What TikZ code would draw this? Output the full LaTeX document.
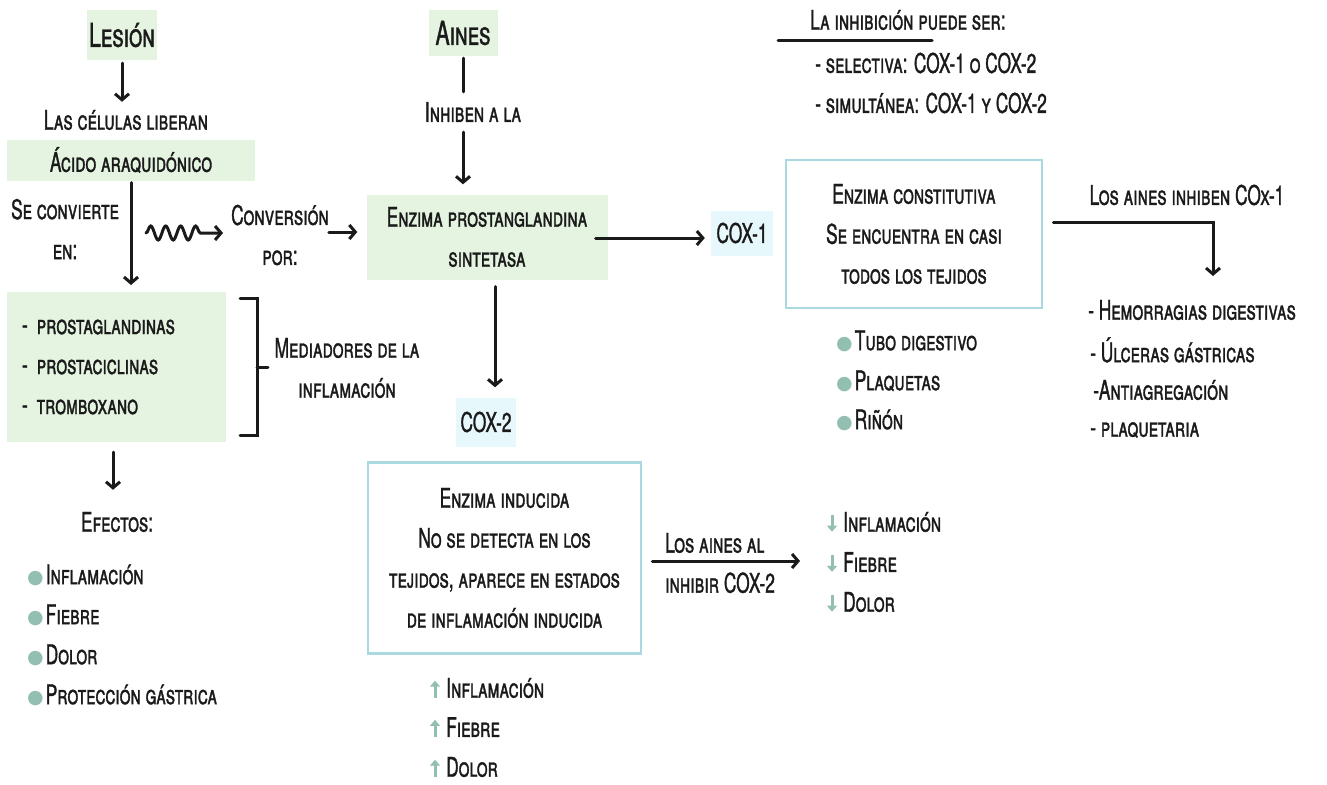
\documentclass[tikz,border=0pt]{standalone}
\usepackage{fontspec}
\setmainfont[FakeStretch=0.64,FakeBold=1.2]{TeX Gyre Heros}
\newfontfamily\symfont{DejaVu Sans}
\usetikzlibrary{arrows.meta,decorations.pathmorphing,calc}
\definecolor{leaf}{HTML}{E4F4E1}
\definecolor{ice}{HTML}{E6F8FC}
\definecolor{frame}{HTML}{AAD9E1}
\definecolor{sage}{HTML}{92BFB1}
\definecolor{ink}{HTML}{1A1A1A}
\newcommand\dotmark{{\color{sage}\fontsize{19}{19}\symfont\raisebox{1pt}{●}}\hspace{2pt}}
\begin{document}
\begin{tikzpicture}[x=1pt,y=-1pt,
  txt/.style={font=\fontsize{27}{40}\selectfont\scshape, text=ink, inner sep=0pt, align=center},
  title/.style={font=\fontsize{33}{40}\selectfont\scshape},
  leafbox/.style={txt, fill=leaf},
  icebox/.style={txt, fill=ice},
  framebox/.style={txt, draw=frame, line width=2.8pt},
  arr/.style={draw=ink, line width=3pt, line cap=round, -{Straight Barb[length=6pt,width=14pt]}},
  plain/.style={draw=ink, line width=3pt, line cap=round},
  item/.style={txt, anchor=west, align=left},
  trend/.style={draw=sage, line width=3pt, -{Triangle[length=6pt,width=10pt]}},
]
\useasboundingbox (0,0) rectangle (1327,784);

% left column: from the lesion to arachidonic acid
\node[leafbox, title, minimum width=70pt, minimum height=50pt] (lesion) at (122,35) {Lesión};
\node[txt] (celulas) at (126,120) {Las células liberan};
\node[leafbox, minimum width=248pt, minimum height=41pt] (acido) at (131,160) {Ácido araquidónico};
\node[txt] (convierte) at (65,229) {Se convierte\\en:};
\node[txt] (conversion) at (280,235) {Conversión\\por:};

\draw[arr] ([yshift=-3pt]lesion.south) -- ($(lesion.south |- celulas.north)+(0,-8)$);
\draw[arr, shorten >=7pt] ($(acido.south)+(0,2)$) -- (acido.south |- 0,292);
\coordinate (wig) at (146,233);
\draw[arr, decorate, decoration={snake, segment length=15pt, amplitude=7pt, post length=18pt}]
  (wig) -- ($(conversion.west |- wig)+(-8,0)$);

% synthase and its inhibitors
\node[leafbox, minimum width=241pt, minimum height=85pt] (enzima) at (487,237) {Enzima prostanglandina\\sintetasa};
\node[leafbox, title, minimum width=69pt, minimum height=46pt] (aines) at (463,33) {Aines};
\node[txt] (inhiben) at (473,112) {Inhiben a la};
\draw[plain] ([yshift=-2pt]aines.south) -- ($(aines.south |- inhiben.north)+(0,-10)$);
\draw[arr] ($(aines.south |- inhiben.south)+(0,10)$) -- ($(aines.south |- enzima.north)+(0,-10)$);
\draw[arr, shorten >=9pt] ($(conversion.east)+(0,-3)$) -- ($(conversion.east -| enzima.west)+(0,-3)$);

% COX-1 branch
\node[icebox, minimum width=62pt, minimum height=45pt] (cox1) at (742,233) {COX-1};
\draw[arr, shorten >=6pt] ($(enzima.east)+(-12,1)$) -- ($(enzima.east -| cox1.west)+(0,1)$);
\node[framebox, minimum width=256pt, minimum height=148pt] (constit) at (914,234) {Enzima constitutiva\\Se encuentra en casi\\todos los tejidos};
\node[txt] (inhcox1) at (1187,195) {Los aines inhiben COx-1};
\coordinate (hemotop) at (1213,276);
\draw[arr] ($(constit.east)+(10,-12)$) -| (hemotop);
\node[item] (hemo) at (1088,310) {- Hemorragias digestivas};
\node[item] (ulc) at (1090,350) {- Úlceras gástricas};
\node[item] (anti) at (1093,390) {-Antiagregación};
\node[item] (plaq) at (1090,430) {- plaquetaria};
\node[item] (tubo) at (836,341) {\dotmark Tubo digestivo};
\node[item] (plaquetas) at (836,381) {\dotmark Plaquetas};
\node[item] (rinon) at (836,420) {\dotmark Riñón};

% kinds of inhibition
\node[txt, anchor=west] (inhib) at (810,20) {La inhibición puede ser:};
\draw[plain] (778,41) -- (932,41);
\node[item] (selec) at (815,63) {- selectiva: COX-1 o COX-2};
\node[item] (simul) at (815,103) {- simultánea: COX-1 y COX-2};

% mediators and their effects
\node[leafbox, align=left, text width=189pt, inner xsep=15pt, minimum height=150pt] (medbox) at (116.5,367) {- prostaglandinas\\- prostaciclinas\\- tromboxano};
\draw[plain] (240,298) -- (257,298) -- (257,435) -- (240,435);
\draw[plain] (257,367) -- (268,367);
\node[txt] (medtxt) at (347,368) {Mediadores de la\\inflamación};
\node[txt] (efectos) at (117,522) {Efectos:};
\draw[arr] ($(medbox.south)+(-3.5,10)$) -- ($(medbox.south |- efectos.north)+(-3.5,-22)$);
\node[item] (ef1) at (27,575) {\dotmark Inflamación};
\node[item] (ef2) at (27,615) {\dotmark Fiebre};
\node[item] (ef3) at (27,655) {\dotmark Dolor};
\node[item] (ef4) at (27,695) {\dotmark Protección gástrica};

% COX-2 branch
\node[icebox, minimum width=60pt, minimum height=49pt] (cox2) at (486,422) {COX-2};
\draw[arr] ($(enzima.south)+(8,7)$) -- ($(enzima.south |- cox2.north)+(8,-10)$);
\node[framebox, minimum width=273pt, minimum height=191pt] (induc) at (504.5,558) {Enzima inducida\\No se detecta en los\\tejidos, aparece en estados\\de inflamación inducida};
\node[item] (aines2) at (665,563) {Los aines al\\inhibir COX-2};
\coordinate (downtop) at (800,561);
\draw[arr] ($(induc.east |- downtop)+(10,0)$) -- (downtop);

% effects lowered by the inhibitors
\node[item] (dn1) at (843,522) {Inflamación};
\node[item] (dn2) at (843,562) {Fiebre};
\node[item] (dn3) at (843,602) {Dolor};
\foreach \n in {dn1,dn2,dn3}
  \draw[trend] ($(\n.base west)+(-11,-17)$) -- ($(\n.base west)+(-11,0)$);

% effects raised by the induced enzyme
\node[item] (up1) at (446,688) {Inflamación};
\node[item] (up2) at (446,727) {Fiebre};
\node[item] (up3) at (446,767) {Dolor};
\foreach \n in {up1,up2,up3}
  \draw[trend] ($(\n.base west)+(-11,0)$) -- ($(\n.base west)+(-11,-17)$);
\end{tikzpicture}
\end{document}
